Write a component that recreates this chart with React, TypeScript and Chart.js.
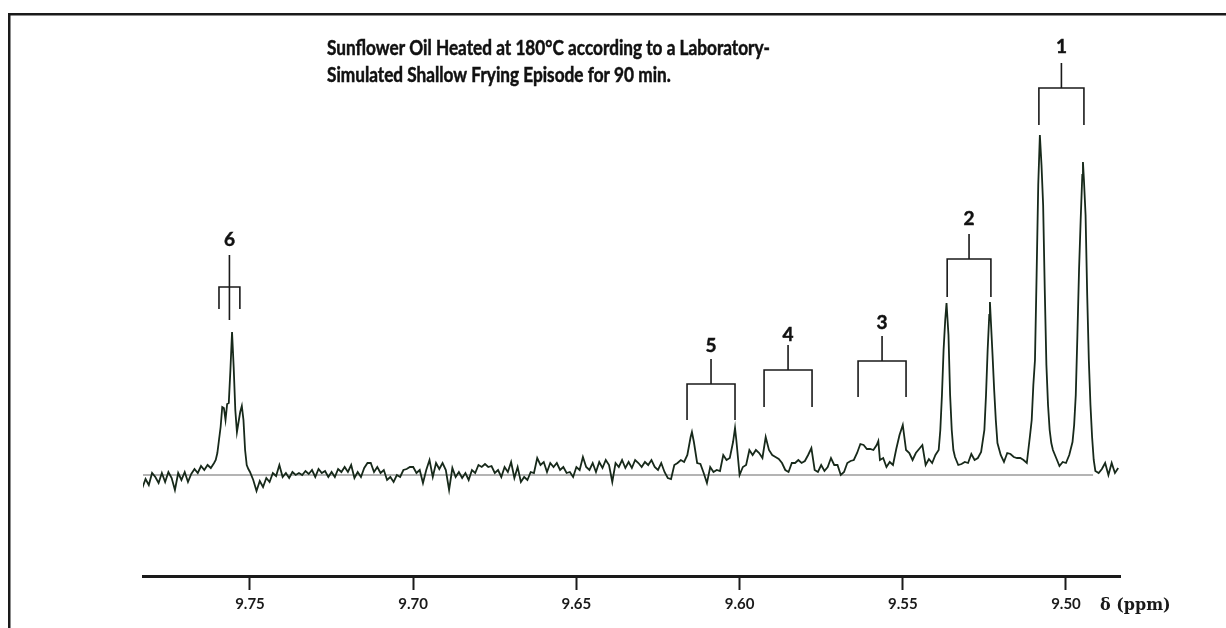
import React, { useEffect, useRef } from "react";
import { Chart, registerables } from "chart.js";

Chart.register(...registerables);

const TITLE_LINES = [
  "Sunflower Oil Heated at 180°C according to a Laboratory-",
  "Simulated Shallow Frying Episode for 90 min.",
];
const X_TICKS = [9.75, 9.7, 9.65, 9.6, 9.55, 9.5];
const X_UNIT = "δ (ppm)";
const X_MIN = 9.48345;
const X_MAX = 9.78278;

// [chemical shift (ppm), intensity (arbitrary, baseline = 0)]
const SPECTRUM: [number, number][] = [
  [9.783,-13],[9.782,-4],[9.781,-10],[9.780,2],[9.779,-2],[9.778,-8],[9.777,2],[9.776,-7],[9.775,3],[9.774,-3],
  [9.773,-15],[9.772,2],[9.771,-5],[9.770,3],[9.769,-7],[9.768,1],[9.767,6],[9.766,2],[9.765,9],[9.764,5],
  [9.763,10],[9.762,7],[9.761,12],[9.7605,15],[9.7600,22],[9.7595,35],[9.7590,48],[9.7585,68],[9.7580,67],[9.7575,55],
  [9.7570,71],[9.7565,72],[9.7560,105],[9.7555,143],[9.7550,108],[9.7545,65],[9.7540,43],[9.7535,53],[9.7530,63],[9.7525,69],
  [9.7520,55],[9.7515,25],[9.7510,10],[9.7505,6],[9.7500,3],
  [9.749,-5],[9.748,-16],[9.747,-6],[9.746,-12],[9.745,-3],[9.744,-7],[9.743,2],[9.742,-1],[9.741,10],[9.740,-2],
  [9.739,2],[9.738,-3],[9.737,3],[9.736,0],[9.735,2],[9.734,0],[9.733,4],[9.732,1],[9.731,5],[9.730,-2],
  [9.729,6],[9.728,2],[9.727,4],[9.726,-2],[9.725,3],[9.724,-2],[9.723,6],[9.722,3],[9.721,8],[9.720,3],
  [9.719,10],[9.718,-3],[9.717,3],[9.716,-2],[9.715,7],[9.714,12],[9.713,12],[9.712,3],[9.711,8],[9.710,2],
  [9.709,5],[9.708,-5],[9.707,-2],[9.706,-7],[9.705,0],[9.704,-2],[9.703,5],[9.702,6],[9.701,8],[9.700,8],
  [9.699,2],[9.698,5],[9.697,-8],[9.696,5],[9.695,15],[9.694,-2],[9.693,12],[9.692,6],[9.691,12],[9.690,5],
  [9.689,-15],[9.688,7],[9.687,-2],[9.686,3],[9.685,-3],[9.684,2],[9.683,-5],[9.682,5],[9.681,2],[9.680,10],
  [9.679,8],[9.678,11],[9.677,8],[9.676,9],[9.675,2],[9.674,5],[9.673,-2],[9.672,8],[9.671,3],[9.670,13],
  [9.669,-3],[9.668,8],[9.667,-7],[9.666,-2],[9.665,-5],[9.664,3],[9.663,2],[9.662,17],[9.661,10],[9.660,13],
  [9.659,3],[9.658,12],[9.657,8],[9.656,12],[9.655,5],[9.654,8],[9.653,2],[9.652,3],[9.651,-2],[9.650,8],
  [9.649,5],[9.648,18],[9.647,8],[9.646,5],[9.645,12],[9.644,3],[9.643,13],[9.642,7],[9.641,15],[9.640,10],
  [9.639,-7],[9.638,12],[9.637,8],[9.636,15],[9.635,7],[9.634,13],[9.633,7],[9.632,15],[9.631,12],[9.630,8],
  [9.629,13],[9.628,10],[9.627,15],[9.626,8],[9.625,5],[9.624,12],[9.623,3],[9.622,-3],[9.621,-4],[9.620,10],
  [9.619,12],[9.618,15],[9.617,13],[9.616,20],[9.615,38],[9.6146,43],[9.614,33],[9.613,12],[9.612,11],[9.611,2],
  [9.610,-8],[9.609,8],[9.608,3],[9.607,5],[9.606,4],[9.605,20],[9.604,15],[9.603,17],[9.602,33],[9.6014,47],
  [9.601,35],[9.600,0],[9.599,8],[9.598,10],[9.597,25],[9.596,20],[9.595,25],[9.594,22],[9.593,17],[9.592,38],
  [9.591,25],[9.590,20],[9.589,18],[9.588,16],[9.587,12],[9.586,5],[9.585,3],[9.584,12],[9.583,12],[9.582,15],
  [9.581,12],[9.580,14],[9.579,20],[9.578,27],[9.577,5],[9.576,3],[9.575,10],[9.574,4],[9.573,8],[9.572,17],
  [9.571,10],[9.570,10],[9.569,0],[9.568,3],[9.567,12],[9.566,14],[9.565,15],[9.564,22],[9.563,31],[9.562,30],
  [9.561,26],[9.560,26],[9.559,25],[9.558,30],[9.5575,34],[9.557,15],[9.556,17],[9.555,8],[9.554,13],[9.553,10],
  [9.552,26],[9.551,40],[9.550,50],[9.549,25],[9.548,22],[9.547,15],[9.546,22],[9.545,26],[9.544,30],[9.543,10],
  [9.542,16],[9.541,12],[9.540,20],[9.539,25],[9.5385,45],[9.538,80],[9.5375,125],[9.537,155],[9.5366,172],[9.536,140],
  [9.5355,80],[9.535,45],[9.5345,25],[9.534,18],[9.533,10],[9.532,11],[9.531,13],[9.530,12],[9.529,21],[9.528,15],
  [9.527,17],[9.526,23],[9.525,45],[9.5245,80],[9.524,125],[9.5235,160],[9.5233,173],[9.5225,120],[9.522,85],[9.5215,55],
  [9.521,32],[9.520,20],[9.519,13],[9.518,22],[9.517,21],[9.516,18],[9.515,17],[9.514,17],[9.513,15],[9.512,12],
  [9.511,40],[9.5105,55],[9.510,90],[9.5095,115],[9.509,200],[9.5085,290],[9.508,340],[9.5075,310],[9.507,270],[9.5065,185],
  [9.506,110],[9.5055,70],[9.505,45],[9.5045,32],[9.504,25],[9.503,17],[9.502,9],[9.501,13],[9.500,12],[9.499,20],
  [9.498,33],[9.4975,50],[9.497,80],[9.4965,140],[9.496,205],[9.4955,255],[9.495,300],[9.4948,313],[9.4945,295],[9.494,260],
  [9.4935,180],[9.493,115],[9.4925,70],[9.492,38],[9.4915,15],[9.491,4],[9.490,2],[9.489,6],[9.488,12],[9.487,0],
  [9.486,12],[9.485,2],[9.484,7],
];

const BASELINE: [number, number][] = [[9.7828, 0], [9.4917, 0]];

// peak-group annotations (ppm / intensity units)
const PEAK_LABELS = ["1", "2", "3", "4", "5", "6"];
const BRACKET_LEFT = [9.5083, 9.5364, 9.5637, 9.5925, 9.6161, 9.7595];
const BRACKET_RIGHT = [9.4945, 9.523, 9.549, 9.5778, 9.6014, 9.7531];
const BRACKET_BAR = [387, 216, 114, 105, 91, 188];
const BRACKET_LEG = [350, 178, 78, 68, 55, 166];
const STEM_TOP = [412, 241, 139, 130, 116, 220];
const STEM_BOTTOM = [387, 216, 114, 105, 91, 155];
const LABEL_LEVEL = [428, 256, 152, 140, 129, 235];

const decorPlugin = {
  id: "decor",
  beforeDraw(chart: any) {
    const ctx = chart.ctx;
    ctx.save();
    ctx.fillStyle = "#ffffff";
    ctx.fillRect(0, 0, chart.width, chart.height);
    ctx.fillStyle = "#1a1a1a";
    ctx.fillRect(8, 13, chart.width - 8, 2.5);
    ctx.fillRect(8, 13, 2.5, chart.height - 13);
    ctx.restore();
  },
  afterDraw(chart: any) {
    const ctx = chart.ctx;
    const xs = chart.scales.x;
    const ys = chart.scales.y;
    ctx.save();
    // title
    ctx.fillStyle = "#111111";
    ctx.strokeStyle = "#111111";
    ctx.lineWidth = 0.5;
    ctx.font = "bold 20px Lato";
    ctx.textAlign = "left";
    ctx.textBaseline = "alphabetic";
    const w0 = ctx.measureText(TITLE_LINES[0]).width;
    const f = 443 / w0;
    TITLE_LINES.forEach((t, i) => {
      ctx.save();
      ctx.translate(327, 55 + i * 27);
      ctx.scale(f, 1);
      ctx.fillText(t, 0, 0);
      ctx.strokeText(t, 0, 0);
      ctx.restore();
    });
    // brackets
    ctx.strokeStyle = "#1a1a1a";
    ctx.fillStyle = "#111111";
    PEAK_LABELS.forEach((lab, i) => {
      const xl = xs.getPixelForValue(BRACKET_LEFT[i]);
      const xr = xs.getPixelForValue(BRACKET_RIGHT[i]);
      const xm = (xl + xr) / 2;
      const yb = ys.getPixelForValue(BRACKET_BAR[i]);
      const yl = ys.getPixelForValue(BRACKET_LEG[i]);
      const yt = ys.getPixelForValue(STEM_TOP[i]);
      const ysb = ys.getPixelForValue(STEM_BOTTOM[i]);
      ctx.lineWidth = 1.6;
      ctx.beginPath();
      ctx.moveTo(xl, yl);
      ctx.lineTo(xl, yb);
      ctx.lineTo(xr, yb);
      ctx.lineTo(xr, yl);
      ctx.moveTo(xm, yt);
      ctx.lineTo(xm, ysb);
      ctx.stroke();
      ctx.font = "bold 19px Lato";
      ctx.textAlign = "center";
      ctx.textBaseline = "middle";
      ctx.lineWidth = 0.5;
      const ly = ys.getPixelForValue(LABEL_LEVEL[i]);
      ctx.fillText(lab, xm, ly);
      ctx.strokeText(lab, xm, ly);
    });
    // axis unit
    ctx.font = "bold 16px 'DejaVu Serif'";
    ctx.textAlign = "left";
    ctx.textBaseline = "middle";
    ctx.fillStyle = "#1a1a1a";
    ctx.fillText(X_UNIT, 1100, 606);
    ctx.restore();
  },
};

export default function App() {
  const ref = useRef<HTMLCanvasElement | null>(null);
  useEffect(() => {
    if (!ref.current) return;
    const chart = new Chart(ref.current, {
      type: "line",
      data: {
        datasets: [
          {
            label: "spectrum",
            data: SPECTRUM.map(([x, y]) => ({ x, y })),
            borderColor: "#17291a",
            borderWidth: 1.8,
            pointRadius: 0,
            tension: 0,
            fill: false,
          },
          {
            label: "baseline",
            data: BASELINE.map(([x, y]) => ({ x, y })),
            borderColor: "#b4b4b4",
            borderWidth: 2,
            pointRadius: 0,
            fill: false,
          },
        ],
      },
      options: {
        responsive: false,
        animation: false,
        layout: { padding: { left: 143, right: 106, top: 20, bottom: 0 } },
        plugins: {
          legend: { display: false },
          tooltip: { enabled: false },
          title: { display: false },
        },
        scales: {
          x: {
            type: "linear",
            reverse: true,
            min: X_MIN,
            max: X_MAX,
            afterBuildTicks: (scale: any) => {
              scale.ticks = X_TICKS.map((v) => ({ value: v }));
            },
            afterFit: (scale: any) => {
              scale.height = 52;
            },
            grid: {
              drawOnChartArea: false,
              drawTicks: true,
              tickLength: 14,
              tickColor: "#1a1a1a",
              tickWidth: 2,
            },
            border: { display: true, color: "#1a1a1a", width: 3 },
            ticks: {
              autoSkip: false,
              maxRotation: 0,
              padding: 5,
              color: "#1a1a1a",
              font: { family: "Lato", size: 15, weight: "bold" },
              callback: (v: any) => Number(v).toFixed(2),
            },
          },
          y: {
            type: "linear",
            display: false,
            min: -101,
            max: 455,
          },
        },
      },
      plugins: [decorPlugin],
    });
    return () => chart.destroy();
  }, []);
  return (
    <div style={{ position: "absolute", left: 0, top: 0, width: 1226, height: 628, background: "#fff" }}>
      <canvas ref={ref} width={1226} height={628} style={{ display: "block" }} />
    </div>
  );
}
